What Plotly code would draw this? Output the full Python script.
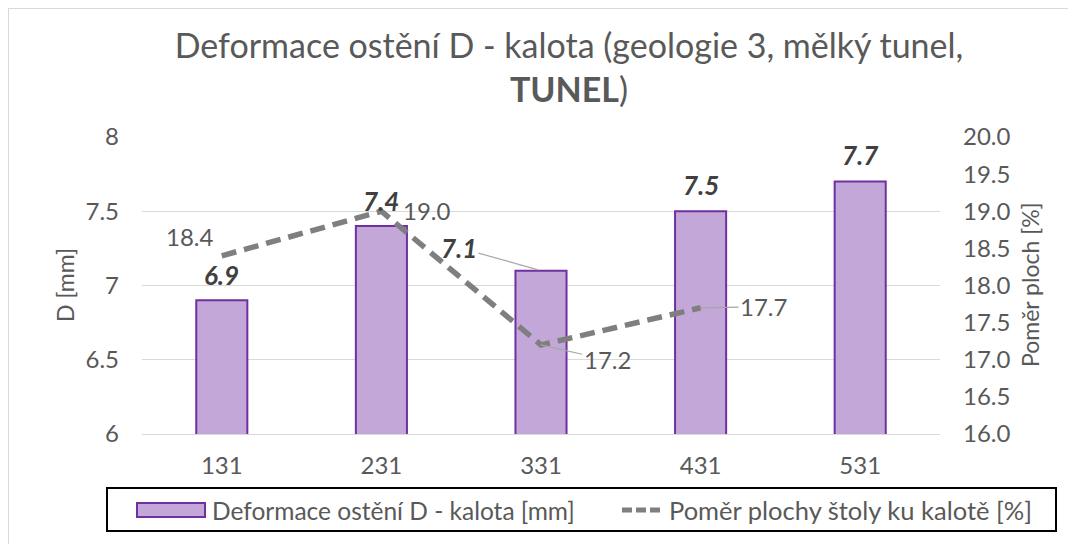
import plotly.graph_objects as go

categories = ["131", "231", "331", "431", "531"]
deformace = [6.9, 7.4, 7.1, 7.5, 7.7]
line_categories = ["131", "231", "331", "431"]
pomer = [18.4, 19.0, 17.2, 17.7]
left_ticks = [6, 6.5, 7, 7.5, 8]
left_tick_labels = ["6", "6.5", "7", "7.5", "8"]
right_ticks = [16.0, 16.5, 17.0, 17.5, 18.0, 18.5, 19.0, 19.5, 20.0]
right_tick_labels = ["16.0", "16.5", "17.0", "17.5", "18.0", "18.5", "19.0", "19.5", "20.0"]

OFF = 8  # default page body margin
W, H = 1076 - OFF, 544 - OFF
L, R, T, B = 142, 940, 137, 434  # plot area in screen pixels
FONT = "Lato"
GREY = "#595959"
BAR_FILL = "#c3a7d9"
BAR_LINE = "#7030a0"


def px(x):
    return (x - L) / (R - L)


def py(y):
    return (B - y) / (B - T)


fig = go.Figure()
fig.add_trace(go.Bar(
    x=categories, y=deformace, name="Deformace ostění D - kalota [mm]",
    marker=dict(color=BAR_FILL, line=dict(color=BAR_LINE, width=2)),
    width=0.32, yaxis="y", showlegend=False,
))
fig.add_trace(go.Scatter(
    x=line_categories, y=pomer, name="Poměr plochy štoly ku kalotě [%]",
    mode="lines", line=dict(color="#7f7f7f", width=5.5, dash="15px,8px"),
    yaxis="y2", showlegend=False,
))

ann = []
LBL_FONT = dict(family=FONT, size=26, color="#404040")
# bar data labels
bar_offsets = {"131": (0, 25), "231": (0, 25), "431": (0, 26), "531": (0, 27)}
for c, v in zip(categories, deformace):
    i = categories.index(c)
    lbl = f"<b><i>{v:.1f}</i></b>"
    if c in bar_offsets:
        dx, dy = bar_offsets[c]
        ann.append(dict(x=i, y=v, xref="x", yref="y", text=lbl, showarrow=False,
                        xshift=dx, yshift=dy, font=LBL_FONT))
    else:
        ann.append(dict(x=i, y=v, xref="x", yref="y", text=lbl, showarrow=True,
                        arrowhead=0, arrowwidth=1.2, arrowcolor="#a6a6a6", ax=-82, ay=-23,
                        standoff=3, font=LBL_FONT))

# line data labels
line_cfg = {
    "131": dict(showarrow=False, xshift=-32, yshift=19),
    "231": dict(showarrow=False, xshift=46, yshift=1),
    "331": dict(showarrow=True, ax=66, ay=15),
    "431": dict(showarrow=True, ax=63, ay=-1),
}
for c, v in zip(line_categories, pomer):
    i = categories.index(c)
    cfg = line_cfg[c]
    a = dict(x=i, y=v, xref="x", yref="y2", text=f"{v:.1f}",
             font=dict(family=FONT, size=24, color=GREY))
    if cfg["showarrow"]:
        a.update(showarrow=True, arrowhead=0, arrowwidth=1.2, arrowcolor="#a6a6a6",
                 ax=cfg["ax"], ay=cfg["ay"], standoff=0)
    else:
        a.update(showarrow=False, xshift=cfg["xshift"], yshift=cfg["yshift"])
    ann.append(a)

# axis titles
ann.append(dict(x=px(65), y=py(285), xref="paper", yref="paper", text="D [mm]",
                xanchor="center", yanchor="middle",
                textangle=-90, showarrow=False, font=dict(family=FONT, size=23, color=GREY)))
ann.append(dict(x=px(1030), y=py(285), xref="paper", yref="paper", text="Poměr ploch [%]",
                xanchor="center", yanchor="middle",
                textangle=-90, showarrow=False, font=dict(family=FONT, size=23, color=GREY)))

# legend texts
LEG_FONT = dict(family=FONT, size=24.5, color=GREY)
ann.append(dict(x=px(210), y=py(510), xref="paper", yref="paper", xanchor="left",
                yanchor="middle",
                text="Deformace ostění D - kalota [mm]", showarrow=False, font=LEG_FONT))
ann.append(dict(x=px(667), y=py(510), xref="paper", yref="paper", xanchor="left",
                yanchor="middle",
                text="Poměr plochy štoly ku kalotě [%]", showarrow=False,
                font=dict(family=FONT, size=25.5, color=GREY)))

shapes = [
    # chart border
    dict(type="rect", xref="paper", yref="paper", x0=px(8), x1=px(1090), y0=py(8), y1=py(570),
         line=dict(color="#d9d9d9", width=2), layer="below"),
    # legend box
    dict(type="rect", xref="paper", yref="paper", x0=px(107), x1=px(1056), y0=py(488), y1=py(531),
         line=dict(color="#000000", width=2)),
    # legend swatch
    dict(type="rect", xref="paper", yref="paper", x0=px(137), x1=px(205), y0=py(503), y1=py(517),
         fillcolor=BAR_FILL, line=dict(color=BAR_LINE, width=2)),
    # legend dashed line
    dict(type="line", xref="paper", yref="paper", x0=px(622), x1=px(662), y0=py(510), y1=py(510),
         line=dict(color="#7f7f7f", width=5, dash="10px,4px")),
]

fig.update_layout(
    width=W, height=H,
    margin=dict(l=L - OFF, r=W - (R - OFF), t=T - OFF, b=H - (B - OFF)),
    paper_bgcolor="white", plot_bgcolor="white",
    title=dict(text="Deformace ostění D - kalota (geologie 3, mělký tunel,<br><b>TUNEL</b>)",
               x=px(569), xref="paper", xanchor="center",
               y=1 - 50 / H, yref="container", yanchor="top",
               font=dict(family=FONT, size=34, color=GREY)),
    font=dict(family=FONT, color=GREY),
    xaxis=dict(type="category", categoryorder="array", categoryarray=categories,
               showgrid=False, showline=True, linecolor="#d9d9d9", linewidth=1,
               ticks="", tickfont=dict(family=FONT, size=24, color=GREY),
               ticklabelstandoff=10, range=[-0.5, 4.5]),
    yaxis=dict(range=[6, 8], tickvals=left_ticks, ticktext=left_tick_labels,
               showgrid=True, gridcolor="#d9d9d9", gridwidth=1, zeroline=False,
               ticks="", tickfont=dict(family=FONT, size=24, color=GREY),
               ticklabelstandoff=22),
    yaxis2=dict(range=[16, 20], tickvals=right_ticks, ticktext=right_tick_labels,
                overlaying="y", side="right", showgrid=False, zeroline=False,
                ticks="", tickfont=dict(family=FONT, size=24, color=GREY),
                ticklabelstandoff=22),
    annotations=ann, shapes=shapes, showlegend=False,
)

fig.write_html("out.html")
